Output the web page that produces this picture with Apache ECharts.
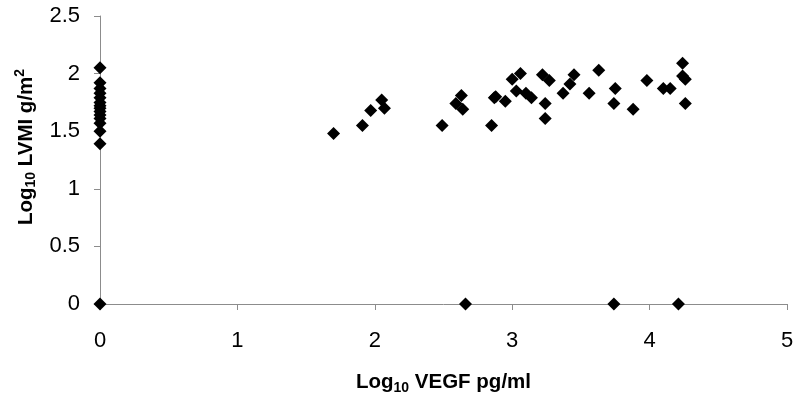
<!DOCTYPE html>
<html lang="en">
<head>
    <meta charset="utf-8" />
    <title>LVMI vs VEGF</title>
    <script src="https://cdn.jsdelivr.net/npm/echarts@6/dist/echarts.min.js"></script>
</head>
<body style="margin:0">
<div id="main" style="width: 800px;height:400px;"></div>
<script type="text/javascript">
    // log10 VEGF (x) and log10 LVMI (y)
    var vegf = [
        0, 0, 0, 0, 0, 0, 0, 0, 0, 0, 0, 0, 0, 0, 0,
        1.70, 1.91, 1.97, 2.05, 2.07,
        2.49, 2.59, 2.63, 2.64, 2.85, 2.87, 2.88, 2.95,
        3.00, 3.03, 3.06, 3.10, 3.14, 3.22, 3.24, 3.24, 3.27,
        3.37, 3.42, 3.45, 3.56, 3.63, 3.74, 3.75, 3.88, 3.98,
        4.10, 4.15, 4.24, 4.24, 4.26, 4.26,
        2.66, 3.74, 4.21
    ];
    var lvmi = [
        2.05, 1.92, 1.87, 1.83, 1.79, 1.75, 1.72, 1.70, 1.67, 1.64, 1.61, 1.57, 1.50, 1.39, 0,
        1.48, 1.55, 1.68, 1.77, 1.70,
        1.55, 1.74, 1.81, 1.69, 1.55, 1.79, 1.80, 1.76,
        1.95, 1.85, 2.00, 1.83, 1.79, 1.99, 1.74, 1.61, 1.94,
        1.83, 1.91, 1.99, 1.83, 2.03, 1.74, 1.87, 1.69, 1.94,
        1.87, 1.87, 2.09, 1.98, 1.95, 1.74,
        0, 0, 0
    ];
    var xTicks = [0, 1, 2, 3, 4, 5];
    var yTicks = [0, 0.5, 1, 1.5, 2, 2.5];

    var points = vegf.map(function (v, i) { return [v, lvmi[i]]; });

    var myChart = echarts.init(document.getElementById('main'), null, {renderer: 'canvas'});

    var titleRich = {
        a: {fontFamily: 'Liberation Sans', fontWeight: 'bold', fontSize: 20.5, color: '#000'},
        s: {fontFamily: 'Liberation Sans', fontWeight: 'bold', fontSize: 14, color: '#000', padding: [11, 0, 0, 0]},
        p: {fontFamily: 'Liberation Sans', fontWeight: 'bold', fontSize: 14, color: '#000', padding: [0, 0, 11, 0]}
    };
    var axisGray = '#8c8c8c';

    var option = {
        animation: false,
        backgroundColor: '#fff',
        grid: {left: 100, right: 13, top: 16, bottom: 96, containLabel: false, outerBoundsMode: 'none'},
        xAxis: {
            type: 'value',
            min: xTicks[0],
            max: xTicks[xTicks.length - 1],
            interval: 1,
            name: '{a|Log}{s|10}{a| VEGF pg/ml}',
            nameLocation: 'middle',
            nameGap: 66,
            nameTextStyle: {rich: titleRich},
            axisLine: {lineStyle: {color: axisGray, width: 1}},
            axisTick: {show: true, inside: false, length: 6, lineStyle: {color: axisGray}},
            axisLabel: {margin: 26, fontFamily: 'Liberation Sans', fontSize: 22, color: '#000'},
            splitLine: {show: false}
        },
        yAxis: {
            type: 'value',
            min: yTicks[0],
            max: yTicks[yTicks.length - 1],
            interval: 0.5,
            name: '{a|Log}{s|10}{a| LVMI g/m}{p|2}',
            nameLocation: 'middle',
            nameRotate: 90,
            nameGap: 54,
            nameTextStyle: {rich: titleRich, padding: [0, 0, 0, 26]},
            axisLine: {show: true, lineStyle: {color: axisGray, width: 1}},
            axisTick: {show: true, inside: false, length: 6, lineStyle: {color: axisGray}},
            axisLabel: {margin: 20, fontFamily: 'Liberation Sans', fontSize: 22, color: '#000'},
            splitLine: {show: false}
        },
        series: [
            {
                type: 'scatter',
                data: points,
                symbol: 'diamond',
                symbolSize: [13, 13],
                itemStyle: {color: '#000', opacity: 1},
                clip: false
            }
        ]
    };
    myChart.setOption(option);
</script>
</body>
</html>
